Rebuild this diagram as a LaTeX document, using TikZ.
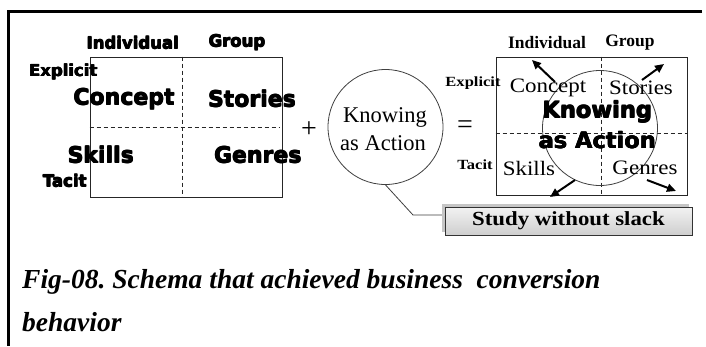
\documentclass[tikz,border=0pt]{standalone}
\usepackage{graphicx}
\usepackage{fontspec}
\setmainfont{Liberation Serif}
\newfontfamily\heavysans{DejaVu Sans}
\usetikzlibrary{arrows.meta}

\newcommand\fsz[1]{\fontsize{#1}{#1}\selectfont}
\newcommand\widen[2]{\scalebox{#1}[1]{#2}}
% thicken a word by overprinting slightly shifted copies
\newcommand\heavy[1]{\makebox[0pt][l]{\kern0.6pt#1}\makebox[0pt][l]{\raisebox{0.45pt}{#1}}\makebox[0pt][l]{\kern0.6pt\raisebox{0.45pt}{#1}}#1}

\tikzset{
  grid/.style={draw=black!85, line width=0.8pt, inner sep=0pt},
  divider/.style={draw=black!85, line width=0.8pt, dash pattern=on 4pt off 3pt},
  ring/.style={circle, draw=black!75, line width=0.8pt, inner sep=0pt, minimum size=115pt},
  txt/.style={inner sep=0pt, anchor=center},
  axis sans/.style={txt, font=\heavysans\bfseries\fsz{16.5}},
  cell sans/.style={txt, font=\heavysans\bfseries\fsz{22}},
  axis serif/.style={txt, font=\bfseries\fsz{17.5}},
  side serif/.style={txt, font=\bfseries\fsz{14}},
  cell serif/.style={txt, font=\fsz{20.5}},
  ring text/.style={txt, font=\fsz{22.5}},
  big sans/.style={txt, font=\heavysans\bfseries\fsz{22.5}},
  op/.style={txt, font=\fsz{28}},
  push/.style={line width=2pt, -{Triangle[length=9pt,width=8pt]}},
  caption/.style={inner sep=0pt, anchor=base west, font=\frenchspacing\bfseries\itshape\fsz{27.5}},
}

\begin{document}
\begin{tikzpicture}[x=1pt, y=-1pt]
\useasboundingbox (0,0) rectangle (706,346);
\fill[white] (0,0) rectangle (706,346);

% page frame: top rule and left rule
\draw[line width=3pt] (702,11) -- (8,11) -- (8,346);

% ---- left grid: individual/group x explicit/tacit ----
\node[grid, minimum width=192pt, minimum height=140pt] (lgrid) at (186,127) {};
\draw[divider] ([xshift=-4pt]lgrid.north) -- ([xshift=-4pt]lgrid.south);
\draw[divider] (lgrid.west) -- ([xshift=-2pt]lgrid.east);

\node[axis sans] (lind) at (132.5,42.7) {\heavy{Individual}};
\node[axis sans] (lgrp) at (236.7,42.7) {\heavy{Group}};
\node[axis sans] (lexp) at (63,71.7) {\heavy{Explicit}};
\node[axis sans] (ltac) at (64.5,181) {\heavy{Tacit}};
\node[cell sans] (lcon) at (123.8,99) {\heavy{Concept}};
\node[cell sans] (lsto) at (251.7,99) {\heavy{Stories}};
\node[cell sans] (lski) at (100.5,155) {\heavy{Skills}};
\node[cell sans] (lgen) at (257.5,155) {\heavy{Genres}};

\node[op] (plus) at (309,130) {+};

% ---- knowing as action ----
\node[ring] (kcirc) at (385.5,127) {};
\node[ring text] (kline1) at (385,117) {Knowing};
\node[ring text] (kline2) at (383,143) {as Action};

\node[op] (equals) at (465,127) {=};

% ---- right grid with the action circle spreading out ----
\node[grid, minimum width=191pt, minimum height=138pt] (rgrid) at (591.5,126) {};
\draw[divider] ([xshift=9.5pt]rgrid.north) -- ([xshift=9.5pt]rgrid.south);
\draw[divider] ([yshift=-7pt]rgrid.west) -- ([yshift=-7pt]rgrid.east);

\node[ring] (icirc) at (600,128) {};

\node[axis serif] (rind) at (547,43) {Individual};
\node[axis serif] (rgrp) at (630,43) {Group};
\node[side serif] (rexp) at (473,83) {\widen{1.18}{Explicit}};
\node[side serif] (rtac) at (475,165) {\widen{1.18}{Tacit}};
\node[cell serif] (rcon) at (548,88) {\widen{1.12}{Concept}};
\node[cell serif] (rsto) at (641,88) {\widen{1.12}{Stories}};
\node[cell serif] (rski) at (529,168) {\widen{1.12}{Skills}};
\node[cell serif] (rgen) at (645,168) {\widen{1.12}{Genres}};
\node[big sans] (rkn1) at (597,112) {\heavy{Knowing}};
\node[big sans] (rkn2) at (597,140) {\heavy{as Action}};

% outward arrows from the circle
\coordinate (ulS) at (555,82);  \coordinate (ulT) at (532,60);
\coordinate (urS) at (642,80);  \coordinate (urT) at (664,64);
\coordinate (llS) at (575,180); \coordinate (llT) at (550,197);
\coordinate (lrS) at (647,180); \coordinate (lrT) at (676,191);
\draw[push] (ulS) -- (ulT);
\draw[push] (urS) -- (urT);
\draw[push] (llS) -- (llT);
\draw[push] (lrS) -- (lrT);

% ---- callout box ----
\node[fill=gray!45, minimum width=247pt, minimum height=28pt, inner sep=0pt] (studyshadow) at (565.5,217.5) {};
\node[draw=black!80, line width=0.9pt, top color=gray!10, bottom color=gray!38,
      minimum width=247pt, minimum height=28pt, inner sep=0pt,
      font=\bfseries\fsz{20}] (study) at (568.5,221) {\widen{1.14}{Study without slack}};
\coordinate (elbow) at (413,215);
\draw[black!75, line width=0.8pt] (kcirc.south) -- (elbow) -- (elbow -| studyshadow.west);

% ---- caption ----
\node[caption] (cap1) at (22,288) {Fig-08. Schema that achieved business~ conversion};
\node[caption] (cap2) at (22,331) {behavior};
\end{tikzpicture}
\end{document}
